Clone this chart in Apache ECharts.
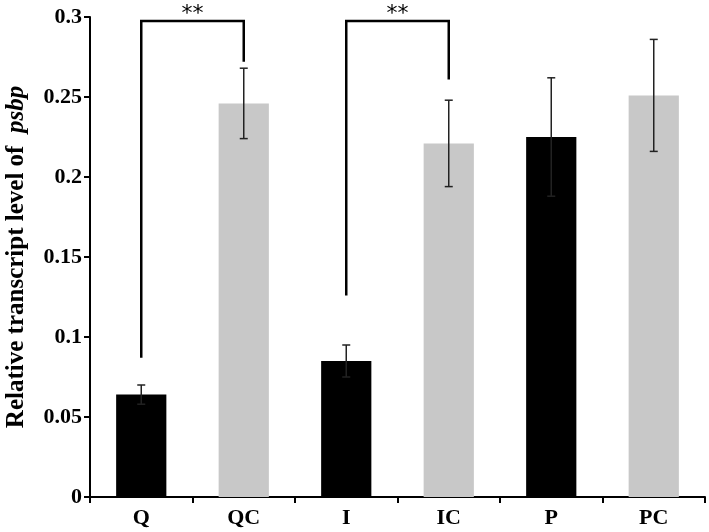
<!DOCTYPE html>
<html lang="en">
<head>
    <meta charset="UTF-8">
    <title>psbp</title>
    <script src="https://cdn.jsdelivr.net/npm/echarts@6/dist/echarts.min.js"></script>
    <style>
        body { margin: 0; background: #fff; }
        #main { width: 709px; height: 532px; }
    </style>
</head>
<body>
<div id="main"></div>
<script>
    // data
    var categories = ['Q', 'QC', 'I', 'IC', 'P', 'PC'];
    var values = [0.064, 0.246, 0.085, 0.221, 0.225, 0.251];
    var errors = [0.006, 0.022, 0.010, 0.027, 0.037, 0.035];
    var barColors = ['#000000', '#c8c8c8', '#000000', '#c8c8c8', '#000000', '#c8c8c8'];
    var yTicks = [0, 0.05, 0.1, 0.15, 0.2, 0.25, 0.3];

    // significance brackets
    var bracketFrom = [0, 2];
    var bracketTo = [1, 3];
    var bracketLeftEnd = [0.087, 0.126];
    var bracketRightEnd = [0.272, 0.261];
    var bracketTop = [0.2975, 0.2975];
    var bracketMark = ['**', '**'];

    var serif = '"Liberation Serif", "Times New Roman", serif';

    var myChart = echarts.init(document.getElementById('main'));

    var errData = values.map(function (v, i) { return [i, v - errors[i], v + errors[i]]; });
    var bracketData = bracketFrom.map(function (f, i) {
        return [f, bracketTo[i], bracketLeftEnd[i], bracketRightEnd[i], bracketTop[i]];
    });

    var option = {
        animation: false,
        backgroundColor: '#fff',
        grid: { left: 90, right: 4, top: 17, bottom: 35, containLabel: false, outerBoundsMode: 'none' },
        xAxis: {
            type: 'category',
            data: categories,
            axisLine: { lineStyle: { color: '#000', width: 2 } },
            axisTick: { show: true, length: 6, lineStyle: { color: '#000', width: 2 } },
            axisLabel: { color: '#000', fontFamily: serif, fontWeight: 'bold', fontSize: 22, margin: 10 }
        },
        yAxis: {
            type: 'value',
            min: yTicks[0],
            max: yTicks[yTicks.length - 1],
            interval: 0.05,
            name: '{a|Relative transcript level of  }{b|psbp}',
            nameLocation: 'middle',
            nameGap: 61,
            nameTextStyle: {
                rich: {
                    a: { fontFamily: serif, fontWeight: 'bold', fontSize: 25, color: '#000' },
                    b: { fontFamily: serif, fontWeight: 'bold', fontStyle: 'italic', fontSize: 25, color: '#000' }
                }
            },
            splitLine: { show: false },
            axisLine: { show: true, lineStyle: { color: '#000', width: 2 } },
            axisTick: { show: true, length: 6, lineStyle: { color: '#000', width: 2 } },
            axisLabel: { color: '#000', fontFamily: serif, fontWeight: 'bold', fontSize: 22, margin: 8 }
        },
        series: [
            {
                type: 'bar',
                barWidth: '49%',
                data: values.map(function (v, i) {
                    return { value: v, itemStyle: { color: barColors[i] } };
                }),
                z: 2
            },
            {
                type: 'custom',
                data: errData,
                z: 3,
                renderItem: function (params, api) {
                    var lo = api.coord([api.value(0), api.value(1)]);
                    var hi = api.coord([api.value(0), api.value(2)]);
                    var hw = 4;
                    var st = { stroke: '#222', lineWidth: 1.5 };
                    return {
                        type: 'group',
                        children: [
                            { type: 'line', shape: { x1: lo[0], y1: lo[1], x2: hi[0], y2: hi[1] }, style: st },
                            { type: 'line', shape: { x1: hi[0] - hw, y1: hi[1], x2: hi[0] + hw, y2: hi[1] }, style: st },
                            { type: 'line', shape: { x1: lo[0] - hw, y1: lo[1], x2: lo[0] + hw, y2: lo[1] }, style: st }
                        ]
                    };
                }
            },
            {
                type: 'custom',
                data: bracketData,
                z: 4,
                renderItem: function (params, api) {
                    var a = api.coord([api.value(0), api.value(2)]);
                    var b = api.coord([api.value(1), api.value(3)]);
                    var t = api.coord([api.value(0), api.value(4)])[1];
                    return {
                        type: 'group',
                        children: [
                            {
                                type: 'polyline',
                                shape: { points: [[a[0], a[1]], [a[0], t], [b[0], t], [b[0], b[1]]] },
                                style: { stroke: '#000', lineWidth: 2.5, fill: null }
                            },
                            {
                                type: 'text',
                                style: {
                                    x: (a[0] + b[0]) / 2, y: t - 7,
                                    text: bracketMark[params.dataIndex],
                                    textAlign: 'center', textVerticalAlign: 'middle',
                                    font: '22px "DejaVu Sans", sans-serif', fill: '#000'
                                }
                            }
                        ]
                    };
                }
            }
        ]
    };
    myChart.setOption(option);
</script>
</body>
</html>
